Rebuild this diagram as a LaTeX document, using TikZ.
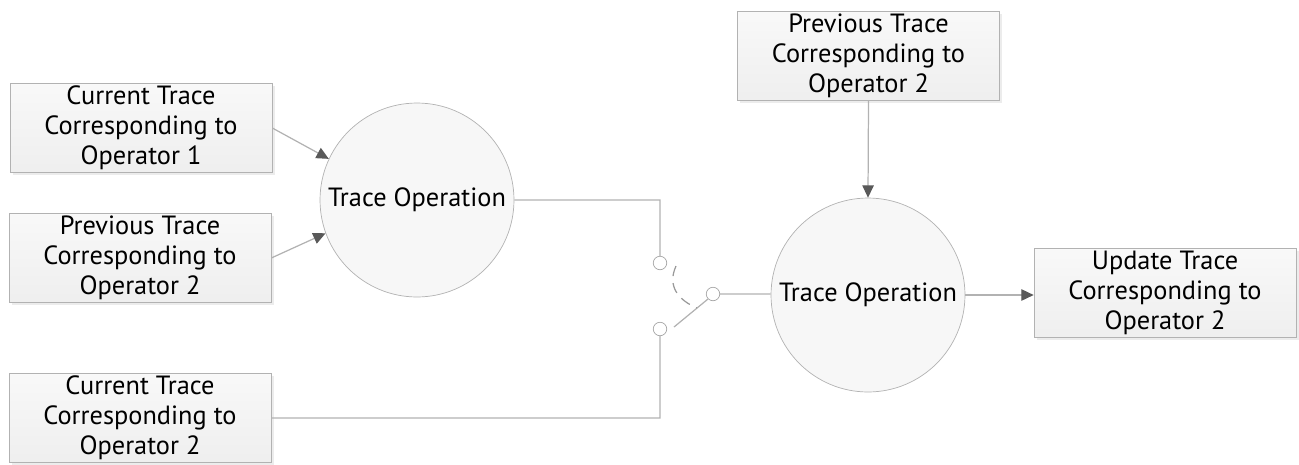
\documentclass[tikz,border=0pt]{standalone}
\usepackage{fontspec}
\setmainfont{PT Sans}
\usetikzlibrary{arrows.meta,shadows}

\tikzset{
    tracebox/.style={draw=gray!60, top color=gray!5, bottom color=gray!13,
        minimum width=5.24cm, minimum height=1.78cm, inner sep=0pt,
        align=center, font=\fontsize{15}{17}\selectfont,
        drop shadow={shadow xshift=1.5pt, shadow yshift=-1.5pt, fill=gray!30}},
    opcircle/.style={circle, draw=gray!60, fill=gray!6, minimum size=3.88cm,
        inner sep=0pt, font=\fontsize{15}{17}\selectfont},
    terminal/.style={circle, draw=gray!70, fill=white, minimum size=0.27cm, inner sep=0pt},
    wire/.style={draw=gray!60, line width=0.7pt},
    feed/.style={wire, -{Triangle[length=7pt, width=6.5pt, color=black!65]}}
}

\begin{document}
\begin{tikzpicture}[x=0.02cm, y=-0.02cm]
    \useasboundingbox (0, 0) rectangle (1299, 464);

    % inputs and output
    \node[tracebox] (cur1) at (141, 128) {Current Trace\\Corresponding to\\Operator 1};
    \node[tracebox] (prev1) at (140, 258) {Previous Trace\\Corresponding to\\Operator 2};
    \node[tracebox] (cur2) at (140, 418) {Current Trace\\Corresponding to\\Operator 2};
    \node[tracebox] (prev2) at (868.5, 56) {Previous Trace\\Corresponding to\\Operator 2};
    \node[tracebox] (upd) at (1165, 293) {Update Trace\\Corresponding to\\Operator 2};

    % operations
    \node[opcircle] (op1) at (417, 200) {Trace Operation};
    \node[opcircle] (op2) at (868, 295) {Trace Operation};

    % switch
    \node[terminal] (t1) at (660, 263) {};
    \node[terminal] (t2) at (660, 329) {};
    \node[terminal] (t0) at (713, 294) {};
    \coordinate (blade) at (674, 327);

    \draw[feed] (cur1.east) -- (op1.155);
    \draw[feed] (prev1.east) -- (op1.200);
    \draw[feed] (prev2.south) -- (op2.north);
    \draw[feed] (op2.east) -- (op2.east -| upd.west);
    \draw[wire]
        (op1.east) -| (t1.north)
        (t2.south) |- (cur2.east)
        (t0.east) -- (op2.west |- t0.east)
        (blade) -- (t0.225);
    \draw[wire, draw=gray!80, dashed, dash pattern=on 6pt off 4pt]
        (676, 266) .. controls (667, 286) and (678, 300) .. (697, 308);
\end{tikzpicture}
\end{document}
